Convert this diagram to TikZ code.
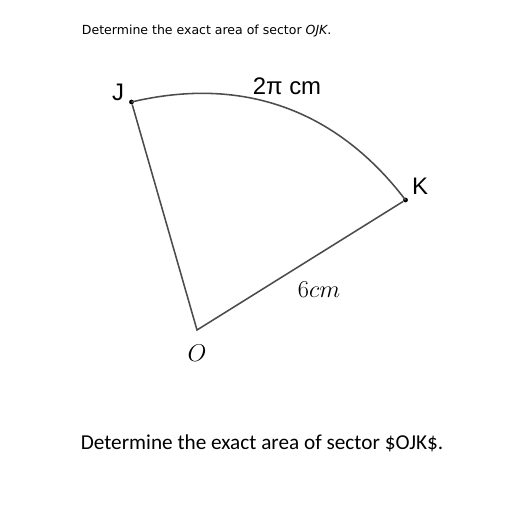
\documentclass[tikz,border=0pt]{standalone}
\usepackage{fontspec}
\newfontfamily\qfont{DejaVu Sans}
\newfontfamily\lblfont{Liberation Sans}
\newfontfamily\capfont{Carlito}
\usetikzlibrary{positioning}

\begin{document}
\begin{tikzpicture}[x=0.025cm,y=0.025cm,
    edge/.style={draw=black!70,line width=1.1pt},
    pt/.style={circle,fill=black,inner sep=0pt,minimum size=3.4pt},
    lbl/.style={font=\lblfont\fontsize{17}{19}\selectfont}]

\useasboundingbox[fill=white] (0,0) rectangle (512,512);

\node[anchor=west,font=\qfont\fontsize{8.9}{10}\selectfont] (q) at (77,481)
    {Determine the exact area of sector \textit{OJK}.};

\coordinate (O) at (197,182);
\node[pt] (J) at (131.5,410) {};
\node[pt] (K) at (405.5,312) {};

\draw[edge] (J) -- (O) -- (K);
\draw[edge] (J.center) to[bend left=33] (K.center);

\node[lbl] at (118,420) {J};
\node[lbl] at (420,326) {K};
\node[lbl] (arc) at (287,426) {2π cm};
\node[font=\fontsize{18}{20}\selectfont] at (319,222) {$6cm$};
\node[font=\fontsize{18}{20}\selectfont] (o) at (197,159) {$O$};

\node[anchor=base,font=\capfont\fontsize{15.1}{17}\selectfont] (cap) at (262,62)
    {Determine the exact area of sector \$OJK\$.};

\end{tikzpicture}
\end{document}
